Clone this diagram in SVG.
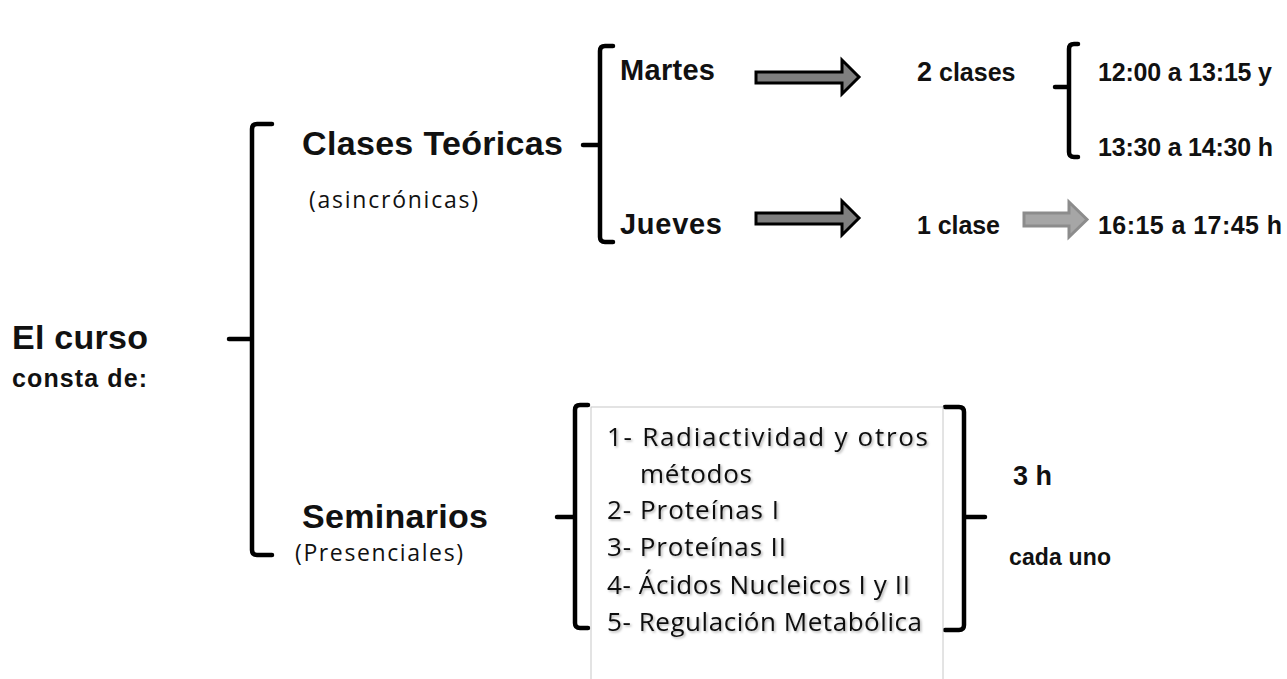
<svg xmlns="http://www.w3.org/2000/svg" width="1287" height="679" viewBox="0 0 1287 679">
<defs>
<style>
.b{font-family:"Liberation Sans",Arial,sans-serif;font-weight:bold;fill:#111}
.r{font-family:"Open Sans","Noto Sans",sans-serif;fill:#111}
.br{fill:none;stroke:#000;stroke-width:4.5;stroke-linecap:round;stroke-linejoin:round}
.ad{fill:#7f7f7f;stroke:#000;stroke-width:3;stroke-linejoin:miter}
.al{fill:#a6a6a6;stroke:#8c8c8c;stroke-width:3}
</style>
<filter id="sh" x="-5%" y="-20%" width="110%" height="140%">
<feDropShadow dx="1.5" dy="1.5" stdDeviation="1" flood-color="#000" flood-opacity="0.3"/>
</filter>
</defs>
<rect width="1287" height="679" fill="#fff"/>

<g id="connectors">
<path class="br" d="M272,124 H257 Q252,124 252,129 V550 Q252,555 257,555 H272 M229,339 H252"/>
<path class="br" d="M613,46 H605 Q600,46 600,51 V237 Q600,242 605,242 H613 M583,145 H600"/>
<path class="br" d="M1078,44 H1074 Q1069,44 1069,49 V152 Q1069,157 1074,157 H1078 M1055,87 H1069"/>
<path class="br" d="M588,405 H580 Q575,405 575,410 V623 Q575,628 580,628 H588 M557,517 H575"/>
<path class="br" d="M945,407 H959 Q964,407 964,412 V625 Q964,630 959,630 H945 M964,517 H985"/>
<path class="ad" d="M756,72 H842 V60 L859,77 L842,94 V83 H756 Z"/>
<path class="ad" d="M756,213 H842 V201 L859,218 L842,235 V224 H756 Z"/>
<path class="al" d="M1024,213 H1069 V202 L1087,219.5 L1069,237 V226 H1024 Z"/>
</g>

<g id="root">
<text class="b" x="12" y="349" font-size="34" textLength="136">El curso</text>
<text class="b" x="12" y="387" font-size="25" textLength="135">consta de:</text>
</g>

<g id="teoricas">
<text class="b" x="302" y="155" font-size="34" textLength="261">Clases Teóricas</text>
<text class="r" x="309" y="208" font-size="23" textLength="169">(asincrónicas)</text>
</g>

<g id="martes">
<text class="b" x="620" y="80" font-size="29" textLength="95">Martes</text>
</g>
<g id="jueves">
<text class="b" x="620" y="234" font-size="29" textLength="102">Jueves</text>
</g>

<g id="dos-clases">
<text class="b" x="917" y="81" font-size="25"><tspan font-size="27">2</tspan> clases</text>
</g>
<g id="horario-martes">
<text class="b" x="1098" y="81" font-size="25" textLength="174">12:00 a 13:15 y</text>
<text class="b" x="1098" y="156" font-size="25" textLength="175">13:30 a 14:30 h</text>
</g>
<g id="una-clase">
<text class="b" x="917" y="234" font-size="25" textLength="83">1 clase</text>
</g>
<g id="horario-jueves">
<text class="b" x="1098" y="234" font-size="25" textLength="184">16:15 a 17:45 h</text>
</g>

<g id="seminarios">
<text class="b" x="302" y="528" font-size="34" textLength="186">Seminarios</text>
<text class="r" x="295" y="561" font-size="23" textLength="168">(Presenciales)</text>
</g>

<g id="lista">
<rect x="591" y="407" width="352" height="290" fill="#fff" stroke="#c8c8c8" stroke-width="1"/>
<g filter="url(#sh)">
<text class="r" x="607" y="446" font-size="26" textLength="321">1- Radiactividad y otros</text>
<text class="r" x="640" y="483" font-size="26" textLength="112">métodos</text>
<text class="r" x="607" y="519" font-size="26" textLength="172">2- Proteínas I</text>
<text class="r" x="607" y="556" font-size="26" textLength="179">3- Proteínas II</text>
<text class="r" x="607" y="594" font-size="26" textLength="303">4- Ácidos Nucleicos I y II</text>
<text class="r" x="607" y="631" font-size="26" textLength="315">5- Regulación Metabólica</text>
</g>
</g>

<g id="duracion">
<text class="b" x="1013" y="485" font-size="27" textLength="39">3 h</text>
<text class="b" x="1009" y="565" font-size="23" textLength="102">cada uno</text>
</g>
</svg>
